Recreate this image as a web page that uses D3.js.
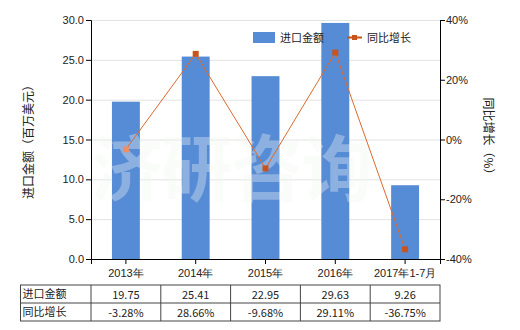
<!DOCTYPE html>
<html>
<head>
<meta charset="utf-8">
<script src="https://cdn.jsdelivr.net/npm/d3@7"></script>
<style>
  body { margin: 0; background: #fff; }
  svg { display: block; font-family: "Noto Sans CJK SC", "Noto Sans", sans-serif; }
</style>
</head>
<body>
<svg id="chart" width="520" height="330"></svg>
<script>
// Chart data
const categories = ["2013年", "2014年", "2015年", "2016年", "2017年1-7月"];
const importValues = [19.75, 25.41, 22.95, 29.63, 9.26];
const growthRates = [-3.28, 28.66, -9.68, 29.11, -36.75];
const leftTicks = [0, 5, 10, 15, 20, 25, 30];
const rightTicks = [-40, -20, 0, 20, 40];
const seriesNames = ["进口金额", "同比增长"];

const svg = d3.select("#chart");
const margin = { left: 91, right: 80, top: 20, bottom: 71 };
const plotBottom = 259;

const x = d3.scaleBand().domain(categories).range([margin.left, 440]).paddingInner(0).paddingOuter(0);
const yLeft = d3.scaleLinear().domain([0, 30]).range([plotBottom, margin.top]);
const yRight = d3.scaleLinear().domain([-40, 40]).range([plotBottom, margin.top]);

// grid lines
svg.append("g")
  .selectAll("line")
  .data(leftTicks.slice(1))
  .join("line")
  .attr("x1", margin.left)
  .attr("x2", 440)
  .attr("y1", d => yLeft(d) + 0.5)
  .attr("y2", d => yLeft(d) + 0.5)
  .attr("stroke", "#e3e3e3");

// bars
const barWidth = x.bandwidth() * 0.4;
svg.append("g")
  .selectAll("rect")
  .data(importValues)
  .join("rect")
  .attr("x", (d, i) => x(categories[i]) + (x.bandwidth() - barWidth) / 2)
  .attr("y", d => yLeft(d))
  .attr("width", barWidth)
  .attr("height", d => plotBottom - yLeft(d))
  .attr("fill", "#568bd6");

// watermark
svg.append("g")
  .selectAll("text")
  .data(["济", "研", "咨", "询"])
  .join("text")
  .attr("x", (d, i) => 127 + i * 70)
  .attr("y", 195)
  .attr("text-anchor", "middle")
  .attr("font-size", 72)
  .attr("font-weight", "bold")
  .attr("fill", "#f2f5f2")
  .attr("fill-opacity", 0.35)
  .text(d => d);

// growth line
const cx = (d, i) => x(categories[i]) + x.bandwidth() / 2;
const line = d3.line().x(cx).y(d => yRight(d));
svg.append("path")
  .datum(growthRates)
  .attr("d", line)
  .attr("fill", "none")
  .attr("stroke", "#dc6a2c")
  .attr("stroke-width", 1);

svg.append("g")
  .selectAll("rect")
  .data(growthRates)
  .join("rect")
  .attr("x", (d, i) => cx(d, i) - 3)
  .attr("y", d => yRight(d) - 3)
  .attr("width", 6)
  .attr("height", 6)
  .attr("fill", (d, i) => i === 0 ? "#ef8f68" : "#c9531a");

// axes
const leftAxis = svg.append("g")
  .attr("transform", `translate(${margin.left},0)`)
  .call(d3.axisLeft(yLeft).tickValues(leftTicks).tickFormat(d => d.toFixed(1)).tickSizeOuter(0).tickSize(5));
const rightAxis = svg.append("g")
  .attr("transform", "translate(440,0)")
  .call(d3.axisRight(yRight).tickValues(rightTicks).tickFormat(d => d + "%").tickSizeOuter(0).tickSize(5));
const bottomAxis = svg.append("g")
  .attr("transform", `translate(0,${plotBottom})`)
  .call(d3.axisBottom(x).tickSizeOuter(0).tickSize(5));

[leftAxis, rightAxis, bottomAxis].forEach(g => {
  g.selectAll("path, line").attr("stroke", "#000");
  g.selectAll("text").attr("fill", "#222").attr("font-size", 11);
});
leftAxis.selectAll("text").attr("x", -7);
rightAxis.selectAll("text").attr("x", 6);
bottomAxis.selectAll("text").attr("dy", "0.9em");

// axis titles
svg.append("text")
  .attr("transform", "translate(33,139) rotate(-90)")
  .attr("text-anchor", "middle")
  .attr("font-size", 12)
  .attr("fill", "#222")
  .text("进口金额（百万美元）");
svg.append("text")
  .attr("transform", "translate(484,139) rotate(90)")
  .attr("text-anchor", "middle")
  .attr("font-size", 12)
  .attr("fill", "#222")
  .text("同比增长（%）");

// legend
const legend = svg.append("g").attr("font-size", 11).attr("fill", "#222");
legend.append("rect").attr("x", 253).attr("y", 32).attr("width", 22).attr("height", 11).attr("fill", "#568bd6");
legend.append("text").attr("x", 280).attr("y", 42).text(seriesNames[0]);
legend.append("line").attr("x1", 347).attr("x2", 362).attr("y1", 37.5).attr("y2", 37.5)
  .attr("stroke", "#c9531a").attr("stroke-width", 2);
legend.append("rect").attr("x", 352).attr("y", 35).attr("width", 5).attr("height", 5).attr("fill", "#c9531a");
legend.append("text").attr("x", 367).attr("y", 42).text(seriesNames[1]);

// data table
const tableTop = 285, rowH = 18, tableLeft = 20.5;
const table = svg.append("g").attr("font-size", 11).attr("fill", "#222");
const rows = [importValues.map(d => d.toFixed(2)), growthRates.map(d => d.toFixed(2) + "%")];
table.append("rect")
  .attr("x", tableLeft).attr("y", tableTop)
  .attr("width", 440 - tableLeft).attr("height", rowH * 2)
  .attr("fill", "none").attr("stroke", "#444");
table.append("line")
  .attr("x1", tableLeft).attr("x2", 440)
  .attr("y1", tableTop + rowH).attr("y2", tableTop + rowH)
  .attr("stroke", "#444");
table.selectAll("line.col")
  .data(categories)
  .join("line")
  .attr("class", "col")
  .attr("x1", d => x(d)).attr("x2", d => x(d))
  .attr("y1", tableTop).attr("y2", tableTop + rowH * 2)
  .attr("stroke", "#444");
rows.forEach((row, r) => {
  table.append("text")
    .attr("x", tableLeft + 2)
    .attr("y", tableTop + rowH * r + 13)
    .text(seriesNames[r]);
  table.selectAll(null)
    .data(row)
    .join("text")
    .attr("x", (d, i) => x(categories[i]) + x.bandwidth() / 2)
    .attr("y", tableTop + rowH * r + 14)
    .attr("text-anchor", "middle")
    .text(d => d);
});
</script>
</body>
</html>
